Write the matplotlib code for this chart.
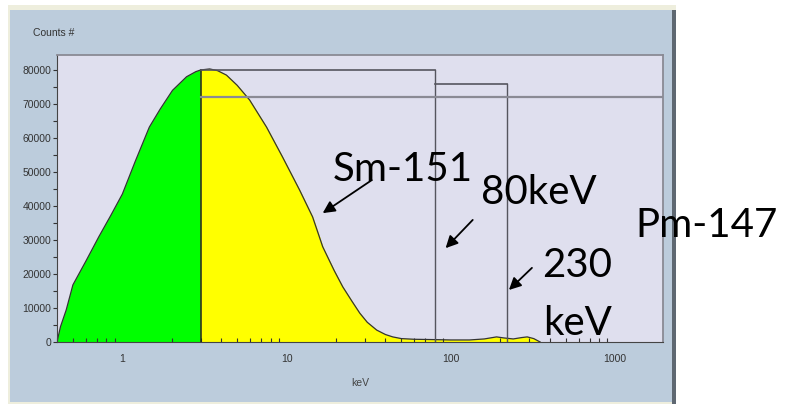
import matplotlib
matplotlib.use('Agg')
import matplotlib.pyplot as plt
from matplotlib.patches import Rectangle
import numpy as np

# spectrum (energy in keV, counts)
energy = [0.4, 0.42, 0.455, 0.5, 0.6, 0.72, 0.85, 1.0, 1.2, 1.46, 1.7, 2.02, 2.46, 2.8,
          3.0, 3.4, 3.8, 4.3, 5.0, 5.95, 7.55, 9.45, 12.0, 14.4, 16.6, 19.5, 22, 25,
          27.9, 31, 35.4, 40, 44.3, 50, 60, 80, 100, 130, 160, 190, 210, 240, 270,
          292, 320, 350]
counts = [0, 4500, 9400, 16800, 23800, 31000, 37200, 43500, 53200, 63200, 68500, 74000,
          78000, 79500, 80000, 80300, 79800, 78500, 75500, 71200, 63200, 54400, 44700,
          36800, 28000, 21000, 16200, 12000, 8500, 5800, 3500, 2200, 1500, 1000, 800,
          700, 600, 600, 900, 1500, 1200, 900, 1300, 1500, 1000, 0]

split_kev = 3.0                      # green / yellow boundary
box_edges = [3.0, 80, 220]           # vertical marker lines
box_tops = [80000, 76000]
level_line = 72000
xticks = [1, 10, 100, 1000]
yticks = list(range(0, 80001, 10000))

W, H = 785, 404
fig = plt.figure(figsize=(W / 100, H / 100), dpi=100)
fig.patch.set_facecolor('white')

def px(x0, y0, x1, y1):
    # pixel box (top-left origin) -> figure fraction rect
    return (x0 / W, 1 - y1 / H), (x1 - x0) / W, (y1 - y0) / H

# window panel
for (x0, y0, x1, y1), c in [((8, 5, 676, 404), '#EEEEDD'),
                            ((10, 10, 672, 402), '#BCCCDC'),
                            ((672, 10, 676, 404), '#5F6872')]:
    xy, w, h = px(x0, y0, x1, y1)
    fig.patches.append(Rectangle(xy, w, h, transform=fig.transFigure, fc=c, ec='none', zorder=-5))

ax = fig.add_axes([57 / W, 1 - 342 / H, (663 - 57) / W, (342 - 55) / H])
ax.set_zorder(1)
ax.set_facecolor('#DFDFEE')
ax.set_xscale('log')
ax.set_xlim(0.4, 1960)
ax.set_ylim(0, 84400)

e = np.array(energy)
c = np.array(counts)
lo = e <= split_kev
hi = e >= split_kev
ax.fill_between(e[lo], 0, c[lo], color='#00FF00', lw=0.6, edgecolor='#00FF00')
ax.fill_between(e[hi], 0, c[hi], color='#FFFF00', lw=0.6, edgecolor='#FFFF00')
ax.plot(e, c, color='#333333', lw=0.9)

# marker boxes
lc = '#55555E'
ax.plot([box_edges[0], box_edges[0]], [0, box_tops[0]], color='#222222', lw=1.1)
ax.plot([box_edges[0], box_edges[1]], [box_tops[0], box_tops[0]], color=lc, lw=1.2)
ax.plot([box_edges[1], box_edges[1]], [0, box_tops[0]], color=lc, lw=1.0)
ax.plot([box_edges[1], box_edges[2]], [box_tops[1], box_tops[1]], color=lc, lw=1.2)
ax.plot([box_edges[2], box_edges[2]], [0, box_tops[1]], color=lc, lw=1.0)
ax.plot([box_edges[0], 1960], [level_line, level_line], color='#8A8A94', lw=1.6)

ax.set_xticks(xticks)
ax.set_xticklabels([str(t) for t in xticks])
ax.set_yticks(yticks)
ax.set_yticks(list(range(5000, 85000, 10000)), minor=True)
ax.tick_params(axis='both', which='both', labelsize=7.5, labelcolor='#333333',
               color='#333333', width=0.8)
ax.tick_params(axis='y', which='both', direction='out', length=3, pad=1)
ax.tick_params(axis='x', which='major', direction='in', length=0, pad=9)
ax.tick_params(axis='x', which='minor', direction='in', length=3)
ax.xaxis.set_minor_formatter(plt.NullFormatter())
for lab in ax.get_xticklabels() + ax.get_yticklabels():
    lab.set_family('Liberation Sans')
for s in ['left', 'bottom']:
    ax.spines[s].set_color('#444444')
for s in ['top', 'right']:
    ax.spines[s].set_color('#8A8A94')
    ax.spines[s].set_linewidth(1.3)

fig.text(33 / W, 1 - 33 / H, 'Counts #', fontsize=7.5, color='#333333',
         family='Liberation Sans', va='center', ha='left')
ax.set_xlabel('keV', fontsize=7.5, color='#444444', family='Liberation Sans', labelpad=10)

# arrows (tail -> head, in data coords)
arrows = [((33, 47600), (16.6, 37900)),
          ((136, 35900), (93, 27600)),
          ((312, 21800), (226, 15300))]
for tail, head in arrows:
    ax.annotate('', xy=head, xytext=tail,
                arrowprops=dict(arrowstyle='-|>', color='black', lw=1.3,
                                mutation_scale=18, shrinkA=0, shrinkB=0))

big = dict(fontsize=29, family='Lato', color='black', ha='left', va='baseline', zorder=5)
for txt, x, y in [('Sm-151', 333, 181), ('80keV', 481, 204), ('230', 542, 277),
                  ('keV', 543, 335), ('Pm-147', 635, 237)]:
    fig.text(x / W, 1 - y / H, txt, **big)

fig.savefig('out.png', dpi=100)
